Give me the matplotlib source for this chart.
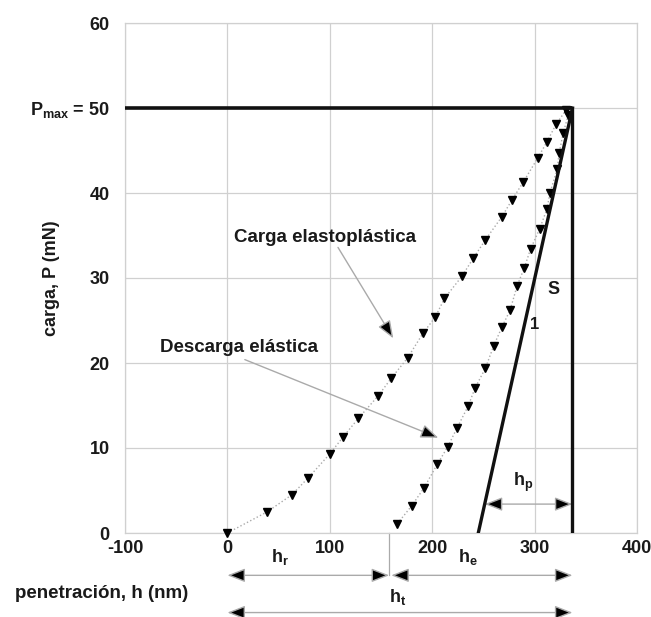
import matplotlib
matplotlib.use("Agg")
import matplotlib.pyplot as plt

plt.rcParams['font.family'] = ['Liberation Sans', 'DejaVu Sans']
plt.rcParams['font.weight'] = 'bold'
plt.rcParams['axes.labelweight'] = 'bold'
plt.rcParams['mathtext.fontset'] = 'custom'
plt.rcParams['mathtext.rm'] = 'Liberation Sans:bold'
plt.rcParams['mathtext.it'] = 'Liberation Sans:bold'
plt.rcParams['mathtext.bf'] = 'Liberation Sans:bold'

# ---- data ----
loading_h = [0, 39, 63, 79, 100, 113, 128, 147, 160, 176, 191, 203, 212, 229,
             240, 252, 268, 278, 289, 303, 312, 321, 331]
loading_P = [0, 2.5, 4.5, 6.5, 9.3, 11.3, 13.5, 16.1, 18.2, 20.6, 23.5, 25.4,
             27.6, 30.2, 32.3, 34.5, 37.2, 39.2, 41.3, 44.1, 46.0, 48.1, 49.8]
unloading_h = [166, 180, 192, 205, 215, 224, 235, 242, 252, 260, 268, 276, 283,
               290, 296, 305, 312, 315, 322, 324, 328, 333]
unloading_P = [1.1, 3.2, 5.3, 8.1, 10.1, 12.3, 14.9, 17.1, 19.4, 22.0, 24.2,
               26.2, 29.1, 31.2, 33.4, 35.8, 38.1, 40.0, 42.8, 44.7, 47.1, 49.2]
h_max = 337
P_max = 50
h_r = 158
tangent_h = [245, h_max]
tangent_P = [0, P_max]
hp_arrow_P = 3.4

x_ticks = [-100, 0, 100, 200, 300, 400]
y_ticks = [0, 10, 20, 30, 40, 50, 60]
y_ticklabels = ['0', '10', '20', '30', '40', r'P$_{\rm max}$ = 50', '60']

W, H = 651, 617
fig = plt.figure(figsize=(W / 100, H / 100), dpi=100)
ax = fig.add_axes([125 / W, 1 - 533 / H, 512 / W, 510 / H])

grid_c = '#d0d0d0'
txt_c = '#1a1a1a'

ax.set_xlim(-100, 400)
ax.set_ylim(0, 60)
ax.set_xticks(x_ticks)
ax.set_yticks(y_ticks)
ax.set_xticklabels([str(v) for v in x_ticks])
ax.set_yticklabels(y_ticklabels)
ax.tick_params(length=0, labelsize=13, colors=txt_c)
ax.tick_params(axis='y', pad=11)
ax.tick_params(axis='x', pad=5)
ax.grid(True, color=grid_c, lw=0.9)
for s in ax.spines.values():
    s.set_color(grid_c)
    s.set_linewidth(0.9)
ax.set_axisbelow(True)

ax.set_ylabel('carga, P (mN)', fontsize=13, color=txt_c, fontweight='bold')
ax.yaxis.set_label_coords(-0.127, 0.5)

# curves
ax.plot(loading_h, loading_P, ls=':', color='#aaaaaa', lw=1.0,
        marker='v', ms=5.5, mfc='black', mec='black', clip_on=False, zorder=3)
ax.plot(unloading_h, unloading_P, ls=':', color='#aaaaaa', lw=1.0,
        marker='v', ms=5.5, mfc='black', mec='black', clip_on=False, zorder=3)

# thick black lines
ax.plot([-100, h_max], [P_max, P_max], color='#111111', lw=2.6, solid_capstyle='butt', zorder=4)
ax.plot([h_max, h_max], [P_max, 0], color='#111111', lw=2.4, solid_capstyle='butt', zorder=4)
ax.plot(tangent_h, tangent_P, color='#111111', lw=2.4, zorder=4)

# annotations
arr = dict(arrowstyle='-|>,head_length=0.9,head_width=0.35', fc='black', ec='#aaaaaa', lw=1.0,
           shrinkA=0, shrinkB=0, mutation_scale=12)
ax.text(95, 34.8, 'Carga elastoplástica', fontsize=13.5, ha='center', va='center', color=txt_c)
ax.annotate('', xy=(162, 22.9), xytext=(108, 33.6), arrowprops=arr)
ax.text(11, 21.8, 'Descarga elástica', fontsize=13.5, ha='center', va='center', color=txt_c)
ax.annotate('', xy=(206, 11.2), xytext=(17, 20.4), arrowprops=arr)

ax.text(318, 28.6, 'S', fontsize=13, ha='center', va='center', color=txt_c)
ax.text(300, 24.5, '1', fontsize=12, ha='center', va='center', color=txt_c)

darr = dict(arrowstyle='<|-|>,head_length=0.9,head_width=0.35', fc='black', ec='#aaaaaa', lw=1.0,
            shrinkA=0, shrinkB=0, mutation_scale=12)
hp_left = tangent_h[0] + (tangent_h[1] - tangent_h[0]) * hp_arrow_P / P_max
ax.annotate('', xy=(h_max, hp_arrow_P), xytext=(hp_left, hp_arrow_P), arrowprops=darr)
ax.text(289, 6.0, r'h$_p$', fontsize=13, ha='center', va='center', color=txt_c)

# below-axis dimension arrows
row1 = -0.083
row2 = -0.156
tr = ax.get_xaxis_transform()
ax.plot([h_r, h_r], [0, row1], transform=tr, color='#aaaaaa', lw=0.9, clip_on=False)
ax.annotate('', xy=(h_r, row1), xytext=(0, row1), xycoords=tr, textcoords=tr,
            arrowprops=darr, annotation_clip=False)
ax.annotate('', xy=(h_max, row1), xytext=(h_r + 2, row1), xycoords=tr, textcoords=tr,
            arrowprops=darr, annotation_clip=False)
ax.annotate('', xy=(h_max, row2), xytext=(0, row2), xycoords=tr, textcoords=tr,
            arrowprops=darr, annotation_clip=False)
ax.text(51, -0.048, r'h$_r$', transform=tr, fontsize=13, ha='center', va='center', color=txt_c)
ax.text(235, -0.047, r'h$_e$', transform=tr, fontsize=13, ha='center', va='center', color=txt_c)
ax.text(166, -0.125, r'h$_t$', transform=tr, fontsize=13, ha='center', va='center', color=txt_c)

fig.text(15 / W, 1 - 593 / H, 'penetración, h (nm)', fontsize=13.5, ha='left', va='center', color=txt_c)

fig.savefig('out.png', dpi=100)
